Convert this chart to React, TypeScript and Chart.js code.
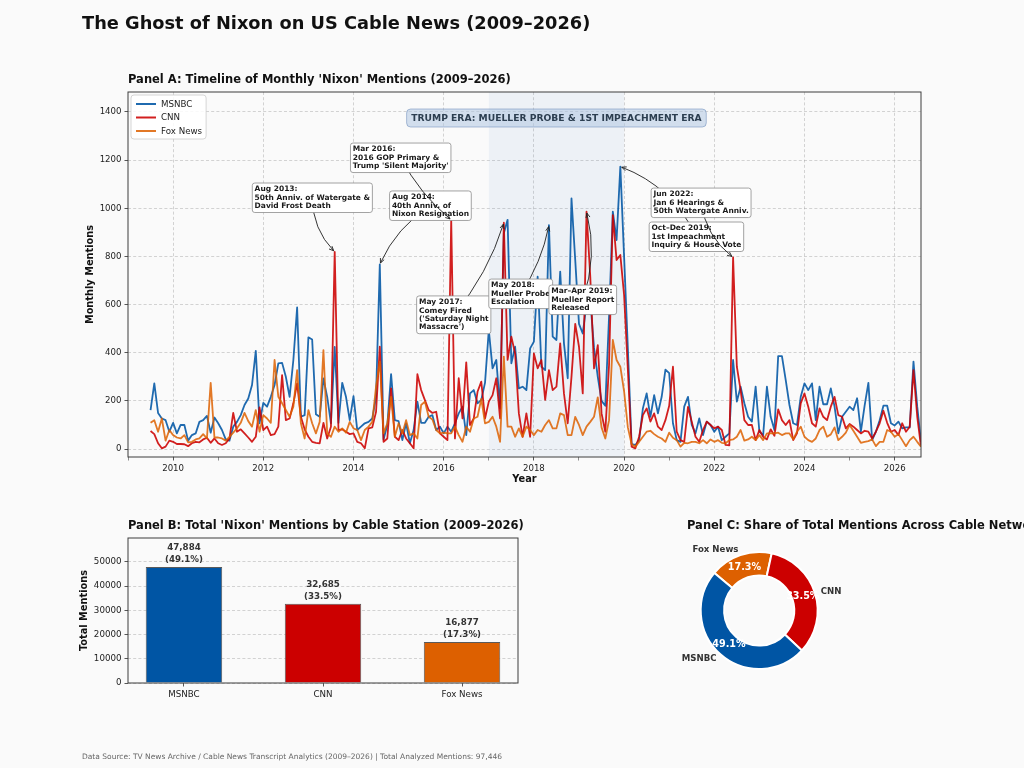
import { useEffect, useRef } from 'react';
import { Chart, registerables } from 'chart.js';

Chart.register(...registerables);

const FONT = '"DejaVu Sans", Verdana, sans-serif';

// ---------------- data ----------------
// monthly series start in July 2009 and run through August 2026
const SERIES_START_YEAR = 2009;
const SERIES_START_MONTH = 7;

const msnbcMonthly = [
  162, 273, 150, 127, 120, 72, // 2009 Jul–Dec
  109, 65, 100, 100, 35, 58, 65, 113, 120, 138, 68, 131, // 2010
  107, 79, 40, 35, 93, 113, 141, 183, 210, 266, 408, 107, // 2011
  192, 176, 217, 266, 356, 358, 300, 217, 370, 588, 134, 141, // 2012
  464, 455, 145, 134, 293, 217, 107, 424, 109, 275, 217, 120, // 2013
  220, 79, 93, 107, 113, 127, 217, 767, 40, 100, 311, 120, // 2014
  116, 37, 107, 24, 79, 197, 109, 109, 134, 141, 79, 93, // 2015
  65, 93, 72, 107, 148, 176, 58, 231, 245, 190, 204, 276, // 2016
  494, 335, 370, 169, 896, 952, 356, 425, 252, 259, 245, 418, // 2017
  446, 716, 342, 328, 930, 467, 453, 737, 439, 294, 1041, 785, // 2018
  520, 480, 600, 620, 420, 300, 200, 180, 550, 986, 868, 1173, // 2019
  800, 420, 20, 17, 37, 169, 231, 134, 224, 148, 217, 330, // 2020
  315, 107, 37, 30, 176, 217, 100, 65, 127, 58, 114, 100, // 2021
  72, 93, 37, 51, 65, 370, 197, 259, 190, 134, 114, 259, // 2022
  72, 58, 259, 134, 79, 386, 386, 287, 183, 107, 100, 217, // 2023
  273, 245, 273, 120, 259, 186, 186, 252, 176, 65, 134, 155, // 2024
  176, 162, 211, 72, 180, 275, 37, 72, 120, 180, 180, 107, // 2025
  98, 114, 86, 90, 90, 363, 176, 30, // 2026 Jan–Aug
];

const cnnMonthly = [
  75, 62, 24, 3, 10, 35,
  30, 21, 21, 20, 12, 24, 30, 28, 40, 47, 26, 44,
  24, 17, 24, 44, 150, 72, 82, 65, 48, 30, 51, 173,
  79, 93, 58, 62, 93, 307, 120, 127, 190, 273, 134, 82,
  51, 30, 26, 24, 109, 44, 93, 819, 79, 82, 72, 62,
  65, 30, 24, 3, 86, 90, 155, 425, 30, 44, 252, 51,
  37, 79, 44, 24, 3, 311, 245, 203, 162, 150, 155, 65,
  51, 37, 952, 44, 294, 127, 360, 100, 127, 238, 280, 127,
  197, 224, 294, 127, 940, 370, 467, 397, 148, 51, 148, 51,
  397, 335, 370, 204, 328, 245, 259, 439, 231, 107, 300, 520,
  425, 231, 986, 716, 335, 432, 148, 72, 350, 972, 785, 806,
  640, 330, 10, 3, 51, 141, 169, 114, 148, 93, 79, 120,
  180, 342, 72, 37, 30, 175, 114, 51, 30, 79, 114, 100,
  86, 93, 79, 17, 15, 796, 342, 245, 120, 100, 100, 37,
  79, 51, 40, 82, 55, 165, 120, 100, 120, 37, 65, 190,
  231, 176, 107, 93, 169, 134, 120, 176, 217, 141, 134, 86,
  104, 93, 79, 65, 76, 72, 44, 72, 107, 159, 109, 72,
  79, 58, 107, 72, 93, 328, 134, 10,
];

const foxMonthly = [
  109, 120, 72, 127, 35, 79,
  58, 48, 44, 58, 28, 30, 40, 44, 62, 44, 275, 48,
  48, 44, 35, 51, 68, 86, 109, 150, 116, 93, 162, 72,
  141, 127, 109, 370, 217, 190, 162, 134, 176, 328, 107, 44,
  162, 107, 65, 113, 411, 65, 51, 93, 72, 86, 68, 113,
  86, 79, 37, 79, 93, 113, 259, 363, 65, 107, 217, 51,
  107, 65, 120, 58, 65, 44, 183, 197, 134, 123, 79, 65,
  68, 65, 65, 93, 58, 30, 93, 72, 127, 134, 208, 107,
  113, 134, 93, 30, 384, 93, 93, 51, 86, 51, 93, 79,
  58, 79, 72, 100, 120, 86, 86, 148, 141, 58, 58, 134,
  100, 58, 93, 113, 134, 215, 90, 44, 120, 453, 370, 342,
  240, 90, 20, 10, 30, 51, 72, 76, 62, 51, 44, 30,
  68, 47, 37, 10, 26, 24, 30, 30, 24, 37, 24, 40,
  30, 37, 26, 24, 37, 40, 51, 79, 35, 40, 51, 37,
  58, 37, 65, 65, 65, 68, 58, 65, 65, 40, 72, 93,
  51, 37, 30, 44, 79, 93, 51, 61, 90, 37, 51, 68,
  100, 76, 51, 26, 30, 33, 40, 12, 30, 30, 79, 72,
  51, 62, 37, 12, 37, 51, 30, 10,
];

const stations = ['MSNBC', 'CNN', 'Fox News'];
const stationTotals = [47884, 32685, 16877];
const stationColors = ['#0055A4', '#CC0000', '#DD6000'];
const lineColors = ['rgba(0,85,164,0.88)', 'rgba(204,0,0,0.88)', 'rgba(221,96,0,0.85)'];

const timelineYears = [2009, 2010, 2011, 2012, 2013, 2014, 2015, 2016, 2017, 2018, 2019, 2020, 2021, 2022, 2023, 2024, 2025, 2026];
const timelineYTicks = [0, 200, 400, 600, 800, 1000, 1200, 1400];
const barYTicks = [0, 10000, 20000, 30000, 40000, 50000];

const eraRange = [2017, 2020];
const eraLabel = 'TRUMP ERA: MUELLER PROBE & 1ST IMPEACHMENT ERA';

type Note = { lines: string[]; month: string; station: string; boxAt: [number, number]; rad: number };
const annotations: Note[] = [
  { lines: ['Aug 2013:', '50th Anniv. of Watergate &', 'David Frost Death'], month: '2013-08', station: 'CNN', boxAt: [2011.756, 1105], rad: 0.2 },
  { lines: ['Aug 2014:', '40th Anniv. of', 'Nixon Resignation'], month: '2014-08', station: 'MSNBC', boxAt: [2014.8, 1072], rad: 0.15 },
  { lines: ['Mar 2016:', '2016 GOP Primary &', "Trump 'Silent Majority'"], month: '2016-03', station: 'CNN', boxAt: [2013.933, 1271], rad: 0.1 },
  { lines: ['May 2017:', 'Comey Fired', "('Saturday Night", "Massacre')"], month: '2017-05', station: 'CNN', boxAt: [2015.4, 636], rad: 0.1 },
  { lines: ['May 2018:', 'Mueller Probe', 'Escalation'], month: '2018-05', station: 'MSNBC', boxAt: [2017.0, 706], rad: 0.1 },
  { lines: ['Mar–Apr 2019:', 'Mueller Report', 'Released'], month: '2019-03', station: 'CNN', boxAt: [2018.333, 681], rad: 0.15 },
  { lines: ['Oct–Dec 2019:', '1st Impeachment', 'Inquiry & House Vote'], month: '2019-12', station: 'MSNBC', boxAt: [2020.556, 943], rad: 0.2 },
  { lines: ['Jun 2022:', 'Jan 6 Hearings &', '50th Watergate Anniv.'], month: '2022-06', station: 'CNN', boxAt: [2020.6, 1084], rad: 0.2 },
];

// ---------------- helpers ----------------
const seriesList = [msnbcMonthly, cnnMonthly, foxMonthly];
const monthX = (i: number) => SERIES_START_YEAR + (SERIES_START_MONTH - 1 + i) / 12;
const monthIndex = (s: string) => {
  const [yy, mm] = s.split('-').map(Number);
  return (yy - SERIES_START_YEAR) * 12 + (mm - SERIES_START_MONTH);
};
const GRID = 'rgba(150,150,150,0.5)';
const FRAME = '#3c3c3c';

function rrPath(ctx: CanvasRenderingContext2D, x: number, y: number, w: number, h: number, r: number) {
  ctx.beginPath();
  ctx.moveTo(x + r, y);
  ctx.lineTo(x + w - r, y);
  ctx.quadraticCurveTo(x + w, y, x + w, y + r);
  ctx.lineTo(x + w, y + h - r);
  ctx.quadraticCurveTo(x + w, y + h, x + w - r, y + h);
  ctx.lineTo(x + r, y + h);
  ctx.quadraticCurveTo(x, y + h, x, y + h - r);
  ctx.lineTo(x, y + r);
  ctx.quadraticCurveTo(x, y, x + r, y);
  ctx.closePath();
}

function drawFrame(chart: any) {
  const { ctx, chartArea: a } = chart;
  ctx.save();
  ctx.strokeStyle = FRAME;
  ctx.lineWidth = 1;
  ctx.strokeRect(a.left, a.top, a.right - a.left, a.bottom - a.top);
  ctx.restore();
}

function drawNote(ctx: CanvasRenderingContext2D, chart: any, n: Note) {
  const { x, y } = chart.scales;
  const fs = 7.5, lh = 8.3, pad = 2.3;
  ctx.font = `bold ${fs}px ${FONT}`;
  const tw = Math.max(...n.lines.map((l) => ctx.measureText(l).width));
  const bw = tw + 2 * pad, bh = n.lines.length * lh + 2 * pad;
  const bx = x.getPixelForValue(n.boxAt[0]);
  const by = y.getPixelForValue(n.boxAt[1]);
  const cx = bx + bw / 2, cy = by + bh / 2;
  const idx = monthIndex(n.month);
  const series = seriesList[stations.indexOf(n.station)];
  const tx = x.getPixelForValue(monthX(idx));
  const ty = y.getPixelForValue(series[idx]);
  const dx = tx - cx, dy = ty - cy;
  const qx = (cx + tx) / 2 - n.rad * dy;
  const qy = (cy + ty) / 2 + n.rad * dx;
  const ang = Math.atan2(ty - qy, tx - qx);
  const ex = tx - 1.5 * Math.cos(ang), ey = ty - 1.5 * Math.sin(ang);
  ctx.strokeStyle = '#1e1e1e';
  ctx.lineWidth = 0.9;
  ctx.beginPath();
  ctx.moveTo(cx, cy);
  ctx.quadraticCurveTo(qx, qy, ex, ey);
  ctx.stroke();
  const hl = 5, hw = 0.42;
  ctx.beginPath();
  ctx.moveTo(ex - hl * Math.cos(ang - hw), ey - hl * Math.sin(ang - hw));
  ctx.lineTo(ex, ey);
  ctx.lineTo(ex - hl * Math.cos(ang + hw), ey - hl * Math.sin(ang + hw));
  ctx.stroke();
  rrPath(ctx, bx, by, bw, bh, 2.5);
  ctx.fillStyle = '#ffffff';
  ctx.fill();
  ctx.strokeStyle = '#8c8c8c';
  ctx.lineWidth = 0.8;
  ctx.stroke();
  ctx.fillStyle = '#1a1a1a';
  ctx.textAlign = 'left';
  ctx.textBaseline = 'middle';
  n.lines.forEach((l, k) => ctx.fillText(l, bx + pad, by + pad + lh * (k + 0.5)));
}

const timelineDecor = {
  id: 'timelineDecor',
  beforeDatasetsDraw(chart: any) {
    const { ctx, chartArea: a, scales: { x } } = chart;
    const x0 = x.getPixelForValue(eraRange[0]);
    const x1 = x.getPixelForValue(eraRange[1]);
    ctx.save();
    ctx.fillStyle = 'rgba(80,130,200,0.075)';
    ctx.fillRect(x0, a.top, x1 - x0, a.bottom - a.top);
    ctx.restore();
  },
  afterDatasetsDraw(chart: any) {
    const { ctx, chartArea: a, scales: { x, y } } = chart;
    drawFrame(chart);
    ctx.save();
    // era label
    ctx.font = `bold 9.2px ${FONT}`;
    const tw = ctx.measureText(eraLabel).width;
    const ecx = x.getPixelForValue((eraRange[0] + eraRange[1]) / 2);
    const ecy = y.getPixelForValue(1375);
    const bw = tw + 9.2, bh = 18;
    rrPath(ctx, ecx - bw / 2, ecy - bh / 2, bw, bh, 4);
    ctx.fillStyle = 'rgba(176,198,226,0.55)';
    ctx.fill();
    ctx.strokeStyle = 'rgba(110,140,185,0.55)';
    ctx.lineWidth = 1;
    ctx.stroke();
    ctx.fillStyle = '#2c3e50';
    ctx.textAlign = 'center';
    ctx.textBaseline = 'middle';
    ctx.fillText(eraLabel, ecx, ecy + 0.5);
    // annotations
    annotations.forEach((n) => drawNote(ctx, chart, n));
    // legend
    ctx.font = `8.7px ${FONT}`;
    const lw = Math.max(...stations.map((s) => ctx.measureText(s).width));
    const lx = a.left + 3, ly = a.top + 3;
    rrPath(ctx, lx, ly, lw + 34, 44, 3);
    ctx.fillStyle = 'rgba(255,255,255,0.85)';
    ctx.fill();
    ctx.strokeStyle = '#cccccc';
    ctx.lineWidth = 0.8;
    ctx.stroke();
    stations.forEach((s, i) => {
      const yy = ly + 9 + i * 13.5;
      ctx.strokeStyle = lineColors[i];
      ctx.lineWidth = 2;
      ctx.beginPath();
      ctx.moveTo(lx + 5, yy);
      ctx.lineTo(lx + 25, yy);
      ctx.stroke();
      ctx.fillStyle = '#222';
      ctx.textAlign = 'left';
      ctx.textBaseline = 'middle';
      ctx.fillText(s, lx + 30, yy + 0.5);
    });
    ctx.restore();
  },
};

const barDecor = {
  id: 'barDecor',
  afterDatasetsDraw(chart: any) {
    const { ctx } = chart;
    const total = stationTotals.reduce((s, v) => s + v, 0);
    const meta = chart.getDatasetMeta(0);
    ctx.save();
    ctx.font = `bold 8.7px ${FONT}`;
    ctx.fillStyle = '#333';
    ctx.textAlign = 'center';
    ctx.textBaseline = 'middle';
    meta.data.forEach((bar: any, i: number) => {
      const v = stationTotals[i];
      ctx.fillText(v.toLocaleString('en-US'), bar.x, bar.y - 19);
      ctx.fillText(`(${((v / total) * 100).toFixed(1)}%)`, bar.x, bar.y - 7.5);
    });
    ctx.restore();
    drawFrame(chart);
  },
};

const pieOrder = [2, 1, 0]; // clockwise drawing order: Fox News, CNN, MSNBC

const pieDecor = {
  id: 'pieDecor',
  afterDatasetsDraw(chart: any) {
    const { ctx } = chart;
    const total = stationTotals.reduce((s, v) => s + v, 0);
    const meta = chart.getDatasetMeta(0);
    ctx.save();
    meta.data.forEach((arc: any, k: number) => {
      const i = pieOrder[k];
      const mid = (arc.startAngle + arc.endAngle) / 2;
      const r = arc.outerRadius;
      const c = Math.cos(mid), s = Math.sin(mid);
      ctx.textBaseline = 'middle';
      ctx.font = `bold 8.6px ${FONT}`;
      ctx.fillStyle = '#333';
      ctx.textAlign = c >= 0 ? 'left' : 'right';
      ctx.fillText(stations[i], arc.x + r * 1.1 * c, arc.y + r * 1.1 * s);
      ctx.font = `bold 9.6px ${FONT}`;
      ctx.fillStyle = '#ffffff';
      ctx.textAlign = 'center';
      ctx.fillText(`${((stationTotals[i] / total) * 100).toFixed(1)}%`, arc.x + r * 0.78 * c, arc.y + r * 0.78 * s);
    });
    ctx.restore();
  },
};

const tickFont = { family: FONT, size: 8.6 };
const titleFont = { family: FONT, size: 9.8, weight: 'bold' as const };

function buildTimeline(canvas: HTMLCanvasElement) {
  return new Chart(canvas, {
    type: 'line',
    data: {
      datasets: seriesList.map((arr, i) => ({
        label: stations[i],
        data: arr.map((v, k) => ({ x: monthX(k), y: v })),
        borderColor: lineColors[i],
        borderWidth: 1.8,
        pointRadius: 0,
        borderJoinStyle: 'round' as const,
        fill: false,
        order: 3 - i,
      })),
    },
    options: {
      animation: false,
      responsive: false,
      events: [],
      layout: { autoPadding: false, padding: { left: 84.6, right: 103, top: 92, bottom: 283.1 } },
      plugins: { legend: { display: false }, tooltip: { enabled: false }, title: { display: false } },
      scales: {
        x: {
          type: 'linear',
          min: SERIES_START_YEAR,
          max: 2026 + 7 / 12,
          afterBuildTicks: (s: any) => { s.ticks = timelineYears.map((v) => ({ value: v })); },
          afterFit: (s: any) => { s.height = 27.9; },
          ticks: { font: tickFont, color: '#222', padding: 3, maxRotation: 0, autoSkip: false, callback: (v: any) => (Number(v) % 2 === 0 ? String(v) : '') },
          grid: {
            color: (c: any) => (c.tick && c.tick.value % 2 === 0 ? GRID : 'rgba(0,0,0,0)'),
            lineWidth: 0.8,
            tickLength: 3.5,
            tickColor: '#444',
            tickWidth: (c: any) => (c.tick && c.tick.value % 2 === 0 ? 0.9 : 0.6),
          },
          border: { display: false, dash: [3, 2.2] },
          title: { display: true, text: 'Year', font: titleFont, color: '#111', padding: 0 },
        },
        y: {
          type: 'linear',
          min: -33,
          max: 1483,
          afterBuildTicks: (s: any) => { s.ticks = timelineYTicks.map((v) => ({ value: v })); },
          afterFit: (s: any) => { s.width = 43.4; },
          ticks: { font: tickFont, color: '#222', padding: 3, callback: (v: any) => String(v) },
          grid: { color: GRID, lineWidth: 0.8, tickLength: 3.5, tickColor: '#444', tickWidth: 0.9 },
          border: { display: false, dash: [3, 2.2] },
          title: { display: true, text: 'Monthly Mentions', font: titleFont, color: '#111', padding: 0 },
        },
      },
    },
    plugins: [timelineDecor],
  } as any);
}

function buildBars(canvas: HTMLCanvasElement) {
  return new Chart(canvas, {
    type: 'bar',
    data: {
      datasets: [{
        data: stationTotals.map((v, i) => ({ x: i, y: v })),
        backgroundColor: stationColors,
        borderColor: '#5a5a5a',
        borderWidth: 1,
        categoryPercentage: 1,
        barPercentage: 0.55,
      }],
    },
    options: {
      animation: false,
      responsive: false,
      events: [],
      layout: { autoPadding: false, padding: { left: 78.1, right: 506, top: 538, bottom: 65 } },
      plugins: { legend: { display: false }, tooltip: { enabled: false } },
      scales: {
        x: {
          type: 'linear',
          offset: false,
          min: -0.4025,
          max: 2.4025,
          afterBuildTicks: (s: any) => { s.ticks = stations.map((_, i) => ({ value: i })); },
          afterFit: (s: any) => { s.height = 20; },
          ticks: { font: { family: FONT, size: 8.7 }, color: '#222', padding: 3, maxRotation: 0, autoSkip: false, callback: (v: any) => stations[Number(v)] ?? '' },
          grid: { offset: false, color: 'rgba(0,0,0,0)', tickLength: 3.5, tickColor: '#444', tickWidth: 0.9 },
          border: { display: false },
        },
        y: {
          type: 'linear',
          min: 0,
          max: Math.max(...stationTotals) * 1.25,
          afterBuildTicks: (s: any) => { s.ticks = barYTicks.map((v) => ({ value: v })); },
          afterFit: (s: any) => { s.width = 49.9; },
          ticks: { font: { family: FONT, size: 8.7 }, color: '#222', padding: 3, callback: (v: any) => String(v) },
          grid: { color: GRID, lineWidth: 0.8, tickLength: 3.5, tickColor: '#444', tickWidth: 0.9 },
          border: { display: false, dash: [3, 2.2] },
          title: { display: true, text: 'Total Mentions', font: titleFont, color: '#111', padding: 0 },
        },
      },
    },
    plugins: [barDecor],
  } as any);
}

function buildDonut(canvas: HTMLCanvasElement) {
  return new Chart(canvas, {
    type: 'doughnut',
    data: {
      labels: pieOrder.map((i) => stations[i]),
      datasets: [{
        data: pieOrder.map((i) => stationTotals[i]),
        backgroundColor: pieOrder.map((i) => stationColors[i]),
        borderColor: '#ffffff',
        borderWidth: 2,
      }],
    },
    options: {
      animation: false,
      responsive: false,
      events: [],
      rotation: -50,
      cutout: '60%',
      layout: { autoPadding: false, padding: { left: 699.7, right: 205.3, top: 551, bottom: 98 } },
      plugins: { legend: { display: false }, tooltip: { enabled: false } },
    },
    plugins: [pieDecor],
  } as any);
}

const textBase: any = { position: 'absolute', whiteSpace: 'nowrap', fontFamily: FONT, margin: 0 };

export default function App() {
  const aRef = useRef<HTMLCanvasElement | null>(null);
  const bRef = useRef<HTMLCanvasElement | null>(null);
  const cRef = useRef<HTMLCanvasElement | null>(null);

  useEffect(() => {
    const charts: Chart[] = [];
    if (aRef.current) charts.push(buildTimeline(aRef.current));
    if (bRef.current) charts.push(buildBars(bRef.current));
    if (cRef.current) charts.push(buildDonut(cRef.current));
    return () => charts.forEach((c) => c.destroy());
  }, []);

  const total = stationTotals.reduce((s, v) => s + v, 0);
  const canvasStyle: any = { position: 'absolute', left: 0, top: 0, width: 1024, height: 768 };

  return (
    <div style={{ position: 'absolute', left: 0, top: 0, width: 1024, height: 768, overflow: 'hidden', background: '#fafafa' }}>
      <canvas ref={aRef} width={1024} height={768} style={canvasStyle} />
      <canvas ref={bRef} width={1024} height={768} style={canvasStyle} />
      <canvas ref={cRef} width={1024} height={768} style={canvasStyle} />
      <div style={{ ...textBase, left: 82, top: 12.5, fontSize: 17.8, lineHeight: '20px', fontWeight: 'bold', color: '#111' }}>
        The Ghost of Nixon on US Cable News (2009–2026)
      </div>
      <div style={{ ...textBase, left: 128, top: 71.5, fontSize: 11.5, lineHeight: '14px', fontWeight: 'bold', color: '#111' }}>
        Panel A: Timeline of Monthly 'Nixon' Mentions (2009–2026)
      </div>
      <div style={{ ...textBase, left: 128, top: 517.5, fontSize: 11.5, lineHeight: '14px', fontWeight: 'bold', color: '#111' }}>
        Panel B: Total 'Nixon' Mentions by Cable Station (2009–2026)
      </div>
      <div style={{ ...textBase, left: 687, top: 517.5, fontSize: 11.5, lineHeight: '14px', fontWeight: 'bold', color: '#111' }}>
        Panel C: Share of Total Mentions Across Cable Networks
      </div>
      <div style={{ ...textBase, left: 82, top: 752, fontSize: 7.5, lineHeight: '10px', color: '#666' }}>
        {`Data Source: TV News Archive / Cable News Transcript Analytics (2009–2026) | Total Analyzed Mentions: ${total.toLocaleString('en-US')}`}
      </div>
    </div>
  );
}
